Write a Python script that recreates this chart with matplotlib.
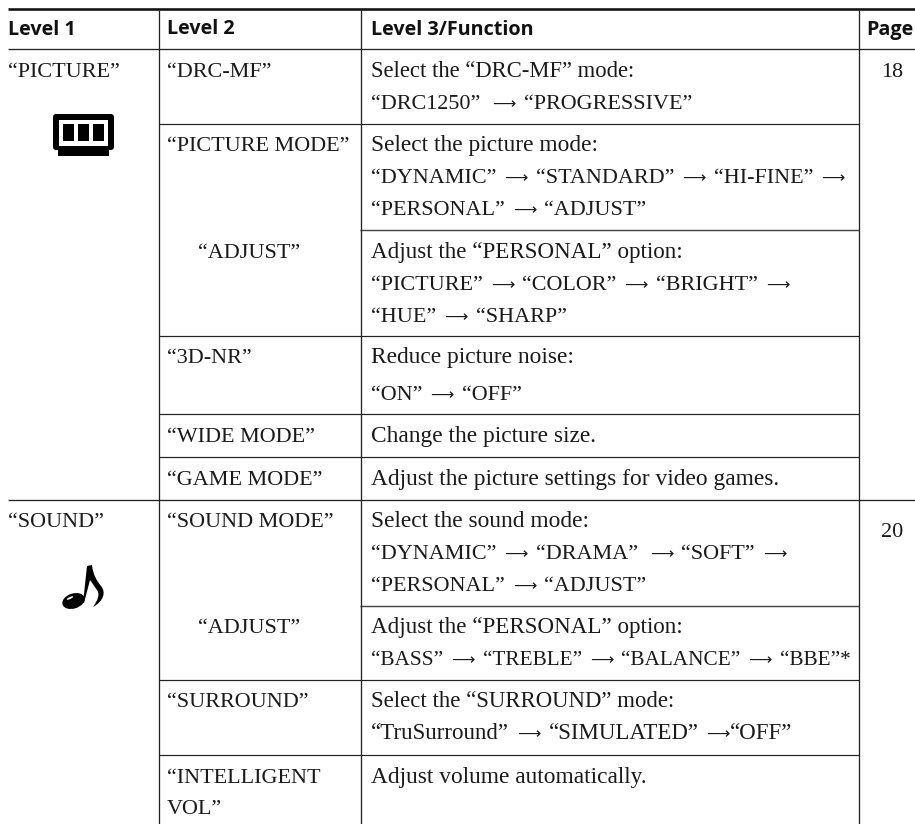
import matplotlib
matplotlib.use('Agg')
import matplotlib.pyplot as plt
from matplotlib.patches import Rectangle, FancyBboxPatch, Ellipse, PathPatch
from matplotlib.path import Path

# Table content

headers = ['Level 1', 'Level 2', 'Level 3/Function', 'Page']

level1 = ['“PICTURE”', '“SOUND”']
pages = ['18', '20']

level2 = ['“DRC-MF”', '“PICTURE MODE”', '“ADJUST”', '“3D-NR”', '“WIDE MODE”', '“GAME MODE”',
          '“SOUND MODE”', '“ADJUST”', '“SURROUND”', '“INTELLIGENT\nVOL”']

level3 = [
    ['Select the “DRC-MF” mode:', '“DRC1250”  ⟶ “PROGRESSIVE”'],
    ['Select the picture mode:', '“DYNAMIC” ⟶ “STANDARD” ⟶ “HI-FINE” ⟶', '“PERSONAL” ⟶ “ADJUST”'],
    ['Adjust the “PERSONAL” option:', '“PICTURE” ⟶ “COLOR” ⟶ “BRIGHT” ⟶', '“HUE” ⟶ “SHARP”'],
    ['Reduce picture noise:', '“ON” ⟶ “OFF”'],
    ['Change the picture size.'],
    ['Adjust the picture settings for video games.'],
    ['Select the sound mode:', '“DYNAMIC” ⟶ “DRAMA”  ⟶ “SOFT” ⟶', '“PERSONAL” ⟶ “ADJUST”'],
    ['Adjust the “PERSONAL” option:', '“BASS” ⟶ “TREBLE” ⟶ “BALANCE” ⟶ “BBE”*'],
    ['Select the “SURROUND” mode:', '“TruSurround” ⟶ “SIMULATED” ⟶“OFF”'],
    ['Adjust volume automatically.'],
]

# Layout, in image pixels

W, H = 915, 824
col_x = [158.5, 360.5, 858.5]
text_x = [8, 167, 371]
page_x = 892

# first baseline of every row, and line baselines for level 3
row_base = [77, 151, 258, 363, 442, 485, 527, 633, 707, 783]
line_gap = [32, 32, 32, 37, 0, 0, 32, 32, 32, 0]
adjust_rows = [2, 7]  # indented sub items

# the original serif is wider in lower case than Liberation, so sizes differ by line
base_size = 15.9
sentence_size = 16.8
line_sizes = {
    'Select the “DRC-MF” mode:': 16.3,
    'Adjust the “PERSONAL” option:': 16.6,
    'Select the “SURROUND” mode:': 16.4,
    '“BASS” ⟶ “TREBLE” ⟶ “BALANCE” ⟶ “BBE”*': 15.3,
    '“TruSurround” ⟶ “SIMULATED” ⟶“OFF”': 16.5,
}

fig = plt.figure(figsize=(W / 100, H / 100), dpi=100)
ax = fig.add_axes([0, 0, 1, 1])
ax.set_xlim(0, W)
ax.set_ylim(H, 0)
ax.axis('off')
renderer = fig.canvas.get_renderer()

line_col = '#222222'
px = 0.72  # one pixel in points

# Rules
ax.hlines(9, 8, W, color='#111111', lw=2.6 * px)
ax.hlines([49, 499.5], 8, W, color=line_col, lw=1.3 * px)
ax.hlines([123.5, 336, 414, 457, 680, 755], col_x[0], col_x[2], color=line_col, lw=1.2 * px)
ax.hlines([230, 606], col_x[1] - 1, col_x[2], color='#444444', lw=1.4 * px)
ax.vlines(col_x, 10, H, color=line_col, lw=1.3 * px)

# Header
head_font = dict(family='Open Sans', weight='bold', fontsize=14.2, color='#111111', va='baseline')
ax.text(8, 35, headers[0], **head_font)
ax.text(167, 34, headers[1], **head_font)
ax.text(371, 35, headers[2], **head_font)
ax.text(866, 35, headers[3], **head_font)

# Body
body = dict(family='Liberation Serif', fontsize=base_size, color='#1a1a1a', va='baseline')
arrow_font = dict(family='DejaVu Sans', fontsize=11.8, color='#1a1a1a', va='baseline')
ax.text(text_x[0], 77, level1[0], **body)
ax.text(text_x[0], 527, level1[1], **body)
ax.text(page_x, 77, pages[0], ha='center', **body)
ax.text(page_x, 537, pages[1], ha='center', **body)

for i, name in enumerate(level2):
    x = text_x[1] + 31 if i in adjust_rows else text_x[1]
    for j, part in enumerate(name.split('\n')):
        ax.text(x, row_base[i] + j * 31, part, **body)


def flow_line(x, y, line):
    # each piece goes after the measured end of the one before, arrows are a smaller glyph
    default = base_size if '⟶' in line else sentence_size
    font = dict(body, fontsize=line_sizes.get(line, default))
    parts = line.split('⟶')
    for k, part in enumerate(parts):
        if k > 0:
            arrow = ax.text(x, y, '⟶', **arrow_font)
            x = arrow.get_window_extent(renderer).x1
            x += 8 if part.startswith(' ') else 0
        label = part.strip()
        if label:
            piece = ax.text(x, y, label, **font)
            x = piece.get_window_extent(renderer).x1
        x += 8 + 4 * (len(part) - len(part.rstrip()) - 1)


for i, lines in enumerate(level3):
    for j, line in enumerate(lines):
        flow_line(text_x[2], row_base[i] + j * line_gap[i], line)

# Picture icon
ax.add_patch(FancyBboxPatch((55, 116), 57, 32, boxstyle='round,pad=2,rounding_size=3', fc='black', ec='none'))
ax.add_patch(Rectangle((58, 148), 51, 8, fc='black', ec='none'))
ax.add_patch(Rectangle((59, 120), 49, 26, fc='white', ec='none'))
for left in [63, 78, 93]:
    ax.add_patch(Rectangle((left, 124), 11, 17, fc='black', ec='none'))

# Note icon
ax.add_patch(Ellipse((73.5, 601), 23, 15, angle=-18, fc='black', ec='none'))
ax.add_patch(Ellipse((70, 598), 7, 2, angle=-25, fc='white', ec='none'))
note = Path(
    [(83, 603), (87, 566), (92, 565),
     (93, 575), (97, 581), (101, 586),
     (106, 592), (104, 601), (93, 607),
     (98, 600), (100, 594), (97, 590),
     (95, 587), (92, 583), (90, 580),
     (84, 603)],
    [Path.MOVETO, Path.LINETO, Path.LINETO,
     Path.CURVE4, Path.CURVE4, Path.CURVE4,
     Path.CURVE4, Path.CURVE4, Path.CURVE4,
     Path.CURVE4, Path.CURVE4, Path.CURVE4,
     Path.CURVE4, Path.CURVE4, Path.CURVE4,
     Path.LINETO])
ax.add_patch(PathPatch(note, fc='black', ec='none'))

fig.savefig('out.png', dpi=100)
